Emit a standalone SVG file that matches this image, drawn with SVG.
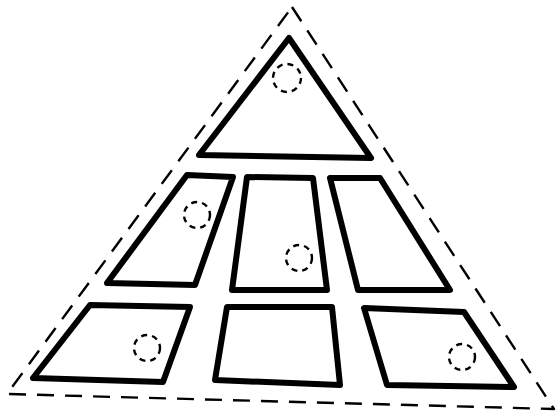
<svg xmlns="http://www.w3.org/2000/svg" width="557" height="416" viewBox="0 0 557 416">
<style>
.outer{fill:none;stroke:#000;stroke-width:2.4;stroke-dasharray:17 11;stroke-linejoin:round}
.cell{fill:#fff;stroke:#000;stroke-width:6;stroke-linejoin:round}
.mark{fill:none;stroke:#000;stroke-width:2.4;stroke-dasharray:6 5}
</style>
<rect width="557" height="416" fill="#fff"/>
<g id="outline">
<path class="outer" d="M292,7 L554,409 L7,394 Z"/>
</g>
<g id="top">
<path class="cell" d="M289,38 L371,158 L199,155 Z"/>
<circle class="mark" cx="287" cy="78" r="14"/>
</g>
<g id="mid-left">
<path class="cell" d="M187,175 L233,177 L195,285 L107,283 Z"/>
<circle class="mark" cx="197" cy="215" r="13"/>
</g>
<g id="mid-center">
<path class="cell" d="M247,177 L313,178 L327,290 L232,290 Z"/>
<circle class="mark" cx="299" cy="258" r="13"/>
</g>
<g id="mid-right">
<path class="cell" d="M330,178 L380,178 L450,290 L358,290 Z"/>
</g>
<g id="bot-left">
<path class="cell" d="M90,305 L190,307 L163,382 L33,378 Z"/>
<circle class="mark" cx="147" cy="348" r="13"/>
</g>
<g id="bot-center">
<path class="cell" d="M227,307 L332,307 L340,385 L215,380 Z"/>
</g>
<g id="bot-right">
<path class="cell" d="M364,308 L464,312 L514,387 L387,385 Z"/>
<circle class="mark" cx="462" cy="357" r="13"/>
</g>
</svg>
